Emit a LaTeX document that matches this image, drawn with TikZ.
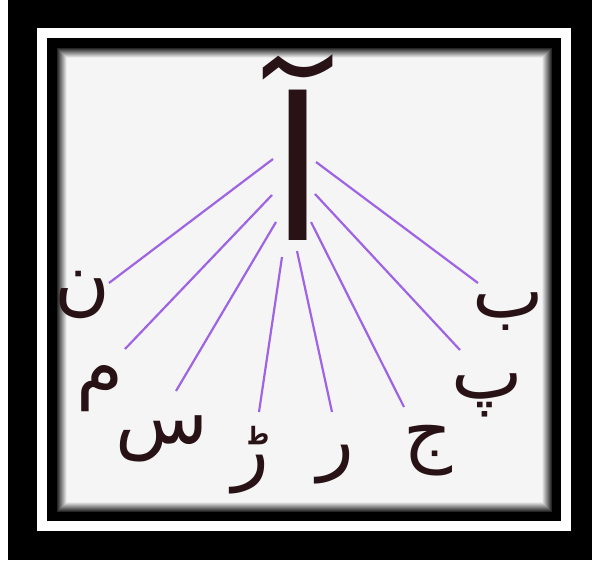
\documentclass[tikz,border=0pt]{standalone}
\usepackage{fontspec}
\newfontfamily\urdufont[Script=Arabic]{DejaVu Sans}
\TeXXeTstate=1
\definecolor{ink}{RGB}{40,18,22}
\definecolor{raycol}{RGB}{158,100,228}
\tikzset{
  letter/.style={text=ink, inner sep=0pt, font=\urdufont\fontsize{76}{76}\selectfont},
  rayline/.style={raycol, line width=2.2pt},
}
\begin{document}
\begin{tikzpicture}[x=1pt, y=-1pt]
    \useasboundingbox (0,0) rectangle (592,565);
    % frame
    \fill[white] (0,0) rectangle (592,565);
    \fill[black] (8,0) rectangle (592,560);
    \fill[white] (37,28) rectangle (571,531);
    \fill[black] (47,38) rectangle (561,521);
    \fill[black!4] (57,48) rectangle (552,512);
    \foreach \i in {0,...,9}
        \pgfmathsetmacro{\shade}{int(85-8.5*\i)}
        \draw[black!\shade, line width=1pt] (57.5+\i,48.5+\i) rectangle (551.5-\i,511.5-\i);
    % main letter
    \node[letter, font=\urdufont\fontsize{198}{198}\selectfont] (alif) at (298,148) {\beginR آ\endR};
    % letters round it
    \node[letter] (noon) at (82,295) {\beginR ن\endR};
    \node[letter] (meem) at (100,389) {\beginR م\endR};
    \node[letter] (seen) at (162,439) {\beginR س\endR};
    \node[letter] (rre) at (251,460) {\beginR ڑ\endR};
    \node[letter] (re) at (336,465) {\beginR ر\endR};
    \node[letter] (jeem) at (428,451) {\beginR ج\endR};
    \node[letter] (pe) at (487,395) {\beginR پ\endR};
    \node[letter] (be) at (508,312) {\beginR ب\endR};
    % ray ends
    \coordinate (s1) at (273,159); \coordinate (e1) at (109,283);
    \coordinate (s2) at (272,195); \coordinate (e2) at (125,349);
    \coordinate (s3) at (276,222); \coordinate (e3) at (176,391);
    \coordinate (s4) at (282,257); \coordinate (e4) at (259,412);
    \coordinate (s5) at (297,251); \coordinate (e5) at (332,412);
    \coordinate (s6) at (311,222); \coordinate (e6) at (404,407);
    \coordinate (s7) at (315,194); \coordinate (e7) at (460,350);
    \coordinate (s8) at (316,162); \coordinate (e8) at (478,283);
    \foreach \k in {1,...,8}
        \draw[rayline] (s\k) -- (e\k);
\end{tikzpicture}
\end{document}
